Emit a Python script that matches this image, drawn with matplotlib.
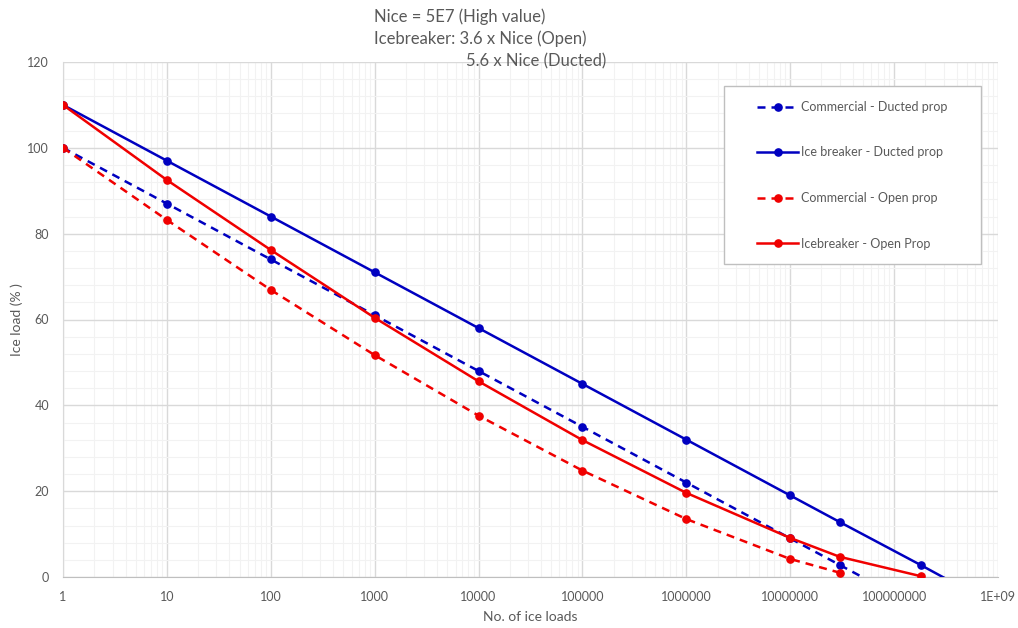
import matplotlib
matplotlib.use("Agg")
import matplotlib.pyplot as plt
from matplotlib.patches import Rectangle
from matplotlib.ticker import FixedLocator, FixedFormatter, MultipleLocator, LogLocator, NullFormatter

plt.rcParams['font.family'] = ['Lato', 'DejaVu Sans']

# Data
com_ducted_x = [1, 10, 100, 1000, 1e4, 1e5, 1e6, 1e7, 3e7, 1e8]
com_ducted_y = [100, 87, 74, 61, 48, 35, 22, 9, 2.8, -4]

ice_ducted_x = [1, 10, 100, 1000, 1e4, 1e5, 1e6, 1e7, 3e7, 1.8e8, 1e9]
ice_ducted_y = [110, 97, 84, 71, 58, 45, 32, 19, 12.8, 2.8, -7]

com_open_x = [1, 10, 100, 1000, 1e4, 1e5, 1e6, 1e7, 3e7]
com_open_y = [100, 83.2, 66.9, 51.7, 37.6, 24.8, 13.5, 4.2, 1.0]

ice_open_x = [1, 10, 100, 1000, 1e4, 1e5, 1e6, 1e7, 3e7, 1.8e8]
ice_open_y = [110, 92.5, 76.2, 60.4, 45.6, 31.9, 19.6, 9.1, 4.7, 0.2]

x_ticks = [1, 10, 100, 1000, 1e4, 1e5, 1e6, 1e7, 1e8, 1e9]
x_tick_labels = ["1", "10", "100", "1000", "10000", "100000", "1000000",
                 "10000000", "100000000", "1E+09"]
y_ticks = [0, 20, 40, 60, 80, 100, 120]

title_lines = ["Nice = 5E7 (High value)", "Icebreaker: 3.6 x Nice (Open)", "5.6 x Nice (Ducted)"]

blue = '#0000C0'
red = '#F00000'
gray_txt = '#595959'

W, H = 1018, 628
fig = plt.figure(figsize=(W/100, H/100), dpi=100)
ax = fig.add_axes([63/W, 1-577/H, (998-63)/W, (577-62)/H])

lw = 1.8
ms = 5.2
dash = (0, (3.2, 2.4))
ax.plot(com_ducted_x, com_ducted_y, color=blue, lw=lw, ls=dash, marker='o', ms=ms,
        label='Commercial - Ducted prop', zorder=3)
ax.plot(ice_ducted_x, ice_ducted_y, color=blue, lw=lw, marker='o', ms=ms,
        label='Ice breaker - Ducted prop', zorder=3)
ax.plot(com_open_x, com_open_y, color=red, lw=lw, ls=dash, marker='o', ms=ms,
        label='Commercial - Open prop', zorder=3)
ax.plot(ice_open_x, ice_open_y, color=red, lw=lw, marker='o', ms=ms,
        label='Icebreaker - Open Prop', zorder=3)

ax.set_xscale('log')
ax.set_xlim(1, 1e9)
ax.set_ylim(0, 120)

ax.xaxis.set_major_locator(FixedLocator(x_ticks))
ax.xaxis.set_major_formatter(FixedFormatter(x_tick_labels))
ax.xaxis.set_minor_locator(LogLocator(base=10, subs=range(2, 10), numticks=100))
ax.xaxis.set_minor_formatter(NullFormatter())
ax.yaxis.set_major_locator(FixedLocator(y_ticks))
ax.yaxis.set_minor_locator(MultipleLocator(4))

ax.grid(which='major', color='#D9D9D9', lw=1.0)
ax.grid(which='minor', color='#F2F2F2', lw=0.8)
ax.set_axisbelow(True)

for s in ['top', 'right']:
    ax.spines[s].set_visible(False)
ax.spines['left'].set_color('#D9D9D9')
ax.spines['bottom'].set_color('#BFBFBF')
ax.tick_params(which='both', length=0, colors=gray_txt, labelsize=9)
ax.tick_params(axis='x', pad=10)
ax.tick_params(axis='y', pad=10)

ax.set_xlabel('No. of ice loads', color=gray_txt, fontsize=10, labelpad=6)
ax.set_ylabel('Ice load (% )', color=gray_txt, fontsize=10, labelpad=3)

fig.text(374/W, 1-17/H, title_lines[0], color=gray_txt, fontsize=12, va='center', ha='left')
fig.text(374/W, 1-39/H, title_lines[1], color=gray_txt, fontsize=12, va='center', ha='left')
fig.text(466/W, 1-61/H, title_lines[2], color=gray_txt, fontsize=12, va='center', ha='left')

# legend frame
ax.add_patch(Rectangle((724/W, 1-264/H), (981-724)/W, (264-86)/H,
                       transform=fig.transFigure, facecolor='white', clip_on=False,
                       edgecolor='#BFBFBF', lw=1.0, zorder=4))
leg = ax.legend(loc='upper left', bbox_to_anchor=(757/W, 1-101/H), bbox_transform=fig.transFigure,
                frameon=False, fontsize=9, labelspacing=2.68, handlelength=3.3,
                handletextpad=0.25, borderpad=0, borderaxespad=0, labelcolor=gray_txt)
leg.set_zorder(5)

fig.savefig('out.png', dpi=100, facecolor='white')
